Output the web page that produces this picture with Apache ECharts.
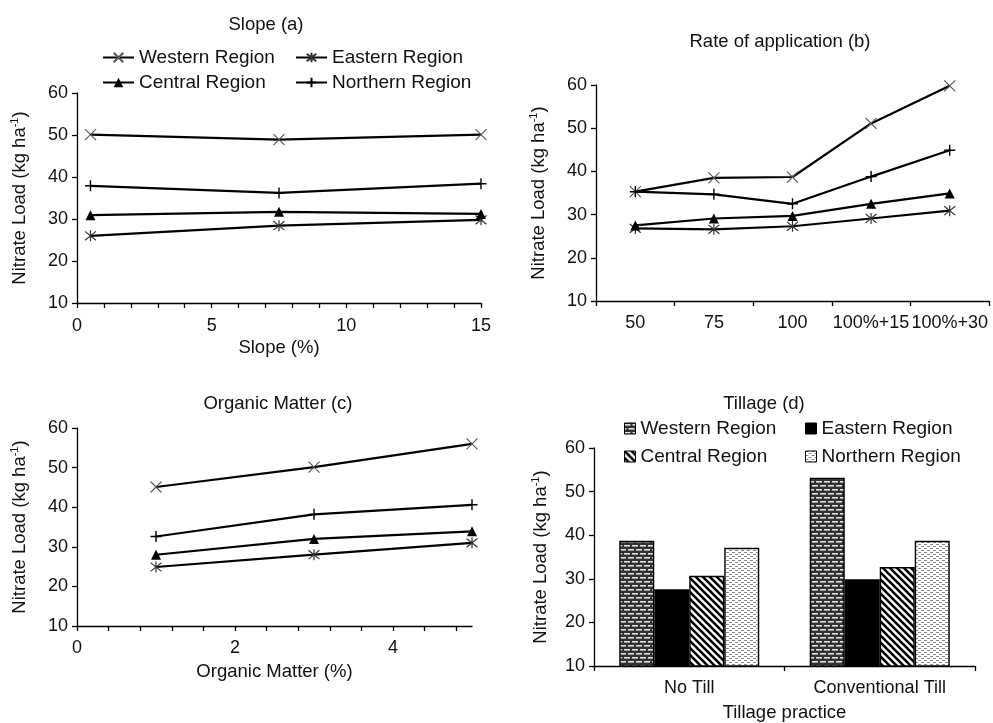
<!DOCTYPE html>
<html>
<head>
<meta charset="utf-8">
<script src="https://cdn.jsdelivr.net/npm/echarts@6/dist/echarts.min.js"></script>
<style>
html,body{margin:0;padding:0;background:#fff;}
#chart{width:993px;height:723px;}
</style>
</head>
<body>
<div id="chart"></div>
<script>
// ---------- data ----------
const regionNames = ['Western Region', 'Eastern Region', 'Central Region', 'Northern Region'];

const slopeX = [0.5, 7.5, 15];
const slopeWestern = [50.1, 48.9, 50.1];
const slopeEastern = [26.0, 28.4, 29.8];
const slopeCentral = [30.9, 31.7, 31.2];
const slopeNorthern = [37.9, 36.2, 38.4];

const rateCats = ['50', '75', '100', '100%+15', '100%+30'];
const rateWestern = [35.3, 38.5, 38.7, 51.1, 59.8];
const rateEastern = [26.8, 26.6, 27.3, 29.1, 30.9];
const rateCentral = [27.5, 29.1, 29.7, 32.5, 34.9];
const rateNorthern = [35.3, 34.7, 32.5, 38.8, 44.9];

const omX = [1, 3, 5];
const omWestern = [45.1, 50.1, 56.0];
const omEastern = [24.9, 28.0, 31.0];
const omCentral = [28.0, 32.0, 33.9];
const omNorthern = [32.6, 38.2, 40.6];

const tillCats = ['No Till', 'Conventional Till'];
const tillWestern = [38.7, 53.2];
const tillEastern = [27.6, 29.9];
const tillCentral = [30.7, 32.7];
const tillNorthern = [37.1, 38.7];

const titles = ['Slope (a)', 'Rate of application (b)', 'Organic Matter (c)', 'Tillage (d)'];
const xNames = ['Slope (%)', '', 'Organic Matter (%)', 'Tillage practice'];

// ---------- styles ----------
const FONT = "'Liberation Sans', Arial, sans-serif";
const TXT = '#111';

function makeCanvas(w, h, draw) {
  const c = document.createElement('canvas');
  c.width = w; c.height = h;
  draw(c.getContext('2d'));
  return c;
}
const brick = makeCanvas(8, 8, g => {
  g.fillStyle = '#333'; g.fillRect(0, 0, 8, 8);
  g.fillStyle = '#e4e4e4';
  g.fillRect(0, 1, 6, 1);
  g.fillRect(4, 5, 4, 1);
  g.fillRect(0, 5, 2, 1);
  g.fillStyle = '#999';
  g.fillRect(0, 2, 6, 1);
  g.fillRect(4, 6, 4, 1);
  g.fillRect(0, 6, 2, 1);
});
const stripes = makeCanvas(7, 7, g => {
  g.fillStyle = '#fff'; g.fillRect(0, 0, 7, 7);
  g.strokeStyle = '#000'; g.lineWidth = 2.6;
  [-7, 0, 7].forEach(k => { g.beginPath(); g.moveTo(k - 1, -1); g.lineTo(k + 8, 8); g.stroke(); });
});
const dots = makeCanvas(6, 4, g => {
  g.fillStyle = '#fff'; g.fillRect(0, 0, 6, 4);
  g.fillStyle = '#8a8a8a';
  g.fillRect(0, 0, 3, 1);
  g.fillRect(3, 2, 3, 1);
});
const barFills = [
  { image: brick, repeat: 'repeat' },
  '#000',
  { image: stripes, repeat: 'repeat' },
  { image: dots, repeat: 'repeat' }
];

const symbols = [
  { symbol: 'path://M0,0L10,10M10,0L0,10', size: 11, color: '#555', bw: 1.1 },
  { symbol: 'path://M1,1L9,9M9,1L1,9M5,0L5,10', size: 11, color: '#333', bw: 1.2 },
  { symbol: 'triangle', size: 10, color: '#000', bw: 0 },
  { symbol: 'path://M0,5L10,5M5,0L5,10', size: 11, color: '#000', bw: 1.4 }
];

const grids = [
  { left: 77, top: 93, width: 404, height: 210 },
  { left: 596, top: 85, width: 393, height: 216 },
  { left: 77, top: 428, width: 395, height: 198 },
  { left: 594, top: 448, width: 381, height: 218 }
];

const axisLine = { show: true, lineStyle: { color: '#000', width: 1.3 } };
const axisTick = { show: true, length: 5, lineStyle: { color: '#000', width: 1.3 } };

function yAxis(i, gap) {
  return {
    type: 'value', gridIndex: i, min: 10, max: 60, interval: 10,
    axisLine: axisLine, axisTick: axisTick, splitLine: { show: false },
    axisLabel: { color: TXT, fontSize: 18, fontFamily: FONT, margin: 9 },
    name: '{a|Nitrate Load (kg ha}{s|-1}{a|)}',
    nameLocation: 'middle', nameGap: gap, nameRotate: 90,
    nameTextStyle: {
      rich: {
        a: { fontSize: 18.5, fontFamily: FONT, color: TXT, lineHeight: 22 },
        s: { fontSize: 11, fontFamily: FONT, color: TXT, verticalAlign: 'top', lineHeight: 22, padding: [0, 0, 8, 0] }
      }
    }
  };
}

const xAxes = [
  {
    type: 'value', gridIndex: 0, min: 0, max: 15, interval: 1,
    axisLine: axisLine, axisTick: axisTick, splitLine: { show: false },
    axisLabel: { color: TXT, fontSize: 18, fontFamily: FONT, margin: 14,
      formatter: v => (Math.abs(v / 5 - Math.round(v / 5)) < 1e-6 ? String(Math.round(v)) : '') },
    name: xNames[0], nameLocation: 'middle', nameGap: 35,
    nameTextStyle: { fontSize: 18.5, fontFamily: FONT, color: TXT }
  },
  {
    type: 'category', gridIndex: 1, data: rateCats, boundaryGap: true,
    axisLine: axisLine, axisTick: Object.assign({}, axisTick, { alignWithLabel: false }),
    axisLabel: { color: TXT, fontSize: 18, fontFamily: FONT, margin: 13, interval: 0, hideOverlap: false }
  },
  {
    type: 'value', gridIndex: 2, min: 0, max: 5, interval: 0.4,
    axisLine: axisLine, axisTick: axisTick, splitLine: { show: false },
    axisLabel: { color: TXT, fontSize: 18, fontFamily: FONT, margin: 13, showMaxLabel: false,
      formatter: v => (Math.abs(v / 2 - Math.round(v / 2)) < 1e-6 && v < 4.9 ? String(Math.round(v)) : '') },
    name: xNames[2], nameLocation: 'middle', nameGap: 36,
    nameTextStyle: { fontSize: 18.5, fontFamily: FONT, color: TXT }
  },
  {
    type: 'category', gridIndex: 3, data: tillCats, boundaryGap: true,
    axisLine: axisLine, axisTick: axisTick,
    axisLabel: { color: TXT, fontSize: 18, fontFamily: FONT, margin: 13, interval: 0 },
    name: xNames[3], nameLocation: 'middle', nameGap: 37,
    nameTextStyle: { fontSize: 18.5, fontFamily: FONT, color: TXT }
  }
];

const yAxes = [yAxis(0, 46), yAxis(1, 46), yAxis(2, 46), yAxis(3, 42)];

function pairs(xs, ys) { return xs.map((x, k) => [x, ys[k]]); }

function lineSeries(idx, data, r) {
  const s = symbols[r];
  return {
    type: 'line', name: regionNames[r], xAxisIndex: idx, yAxisIndex: idx,
    data: data, symbol: s.symbol, symbolSize: s.size, showSymbol: true,
    lineStyle: { color: '#000', width: 2.2 },
    itemStyle: r === 2 ? { color: '#000' } : { color: 'rgba(0,0,0,0)', borderColor: s.color, borderWidth: s.bw },
    emphasis: { disabled: true }, silent: true, z: 3
  };
}

const series = [];
const slopeSets = [slopeWestern, slopeEastern, slopeCentral, slopeNorthern];
const rateSets = [rateWestern, rateEastern, rateCentral, rateNorthern];
const omSets = [omWestern, omEastern, omCentral, omNorthern];
const tillSets = [tillWestern, tillEastern, tillCentral, tillNorthern];
slopeSets.forEach((d, r) => series.push(lineSeries(0, pairs(slopeX, d), r)));
rateSets.forEach((d, r) => series.push(lineSeries(1, d, r)));
omSets.forEach((d, r) => series.push(lineSeries(2, pairs(omX, d), r)));
tillSets.forEach((d, r) => series.push({
  type: 'bar', name: regionNames[r], xAxisIndex: 3, yAxisIndex: 3, data: d,
  barWidth: 35, barGap: '0%',
  itemStyle: { color: barFills[r], borderColor: '#000', borderWidth: 1.4 },
  emphasis: { disabled: true }, silent: true
}));

// legends
const legendTextStyle = { fontSize: 19, fontFamily: FONT, color: TXT };
const legends = [];
const aPos = [[97, 43], [290, 43], [97, 68], [290, 68]];
regionNames.forEach((n, r) => legends.push({
  data: [n], left: aPos[r][0], top: aPos[r][1], itemWidth: 31, itemHeight: 12,
  textStyle: legendTextStyle, selectedMode: false
}));
const dPos = [[619, 414], [800, 414], [619, 442], [800, 442]];
regionNames.forEach((n, r) => legends.push({
  data: [{ name: n, icon: 'rect', itemStyle: { color: barFills[r], borderColor: '#000', borderWidth: 1 } }],
  left: dPos[r][0], top: dPos[r][1], itemWidth: 11, itemHeight: 11,
  textStyle: legendTextStyle, selectedMode: false
}));

const titleCfg = [[266, 15], [780, 32], [278, 394], [764, 394]];
const option = {
  animation: false,
  backgroundColor: '#fff',
  title: titles.map((t, i) => ({
    text: t, left: titleCfg[i][0], top: titleCfg[i][1], textAlign: 'center', padding: 0,
    textStyle: { fontSize: 18.5, fontWeight: 'normal', fontFamily: FONT, color: TXT }
  })),
  legend: legends,
  grid: grids,
  xAxis: xAxes,
  yAxis: yAxes,
  series: series
};

const chart = echarts.init(document.getElementById('chart'), null, { renderer: 'canvas' });
chart.setOption(option);
</script>
</body>
</html>
